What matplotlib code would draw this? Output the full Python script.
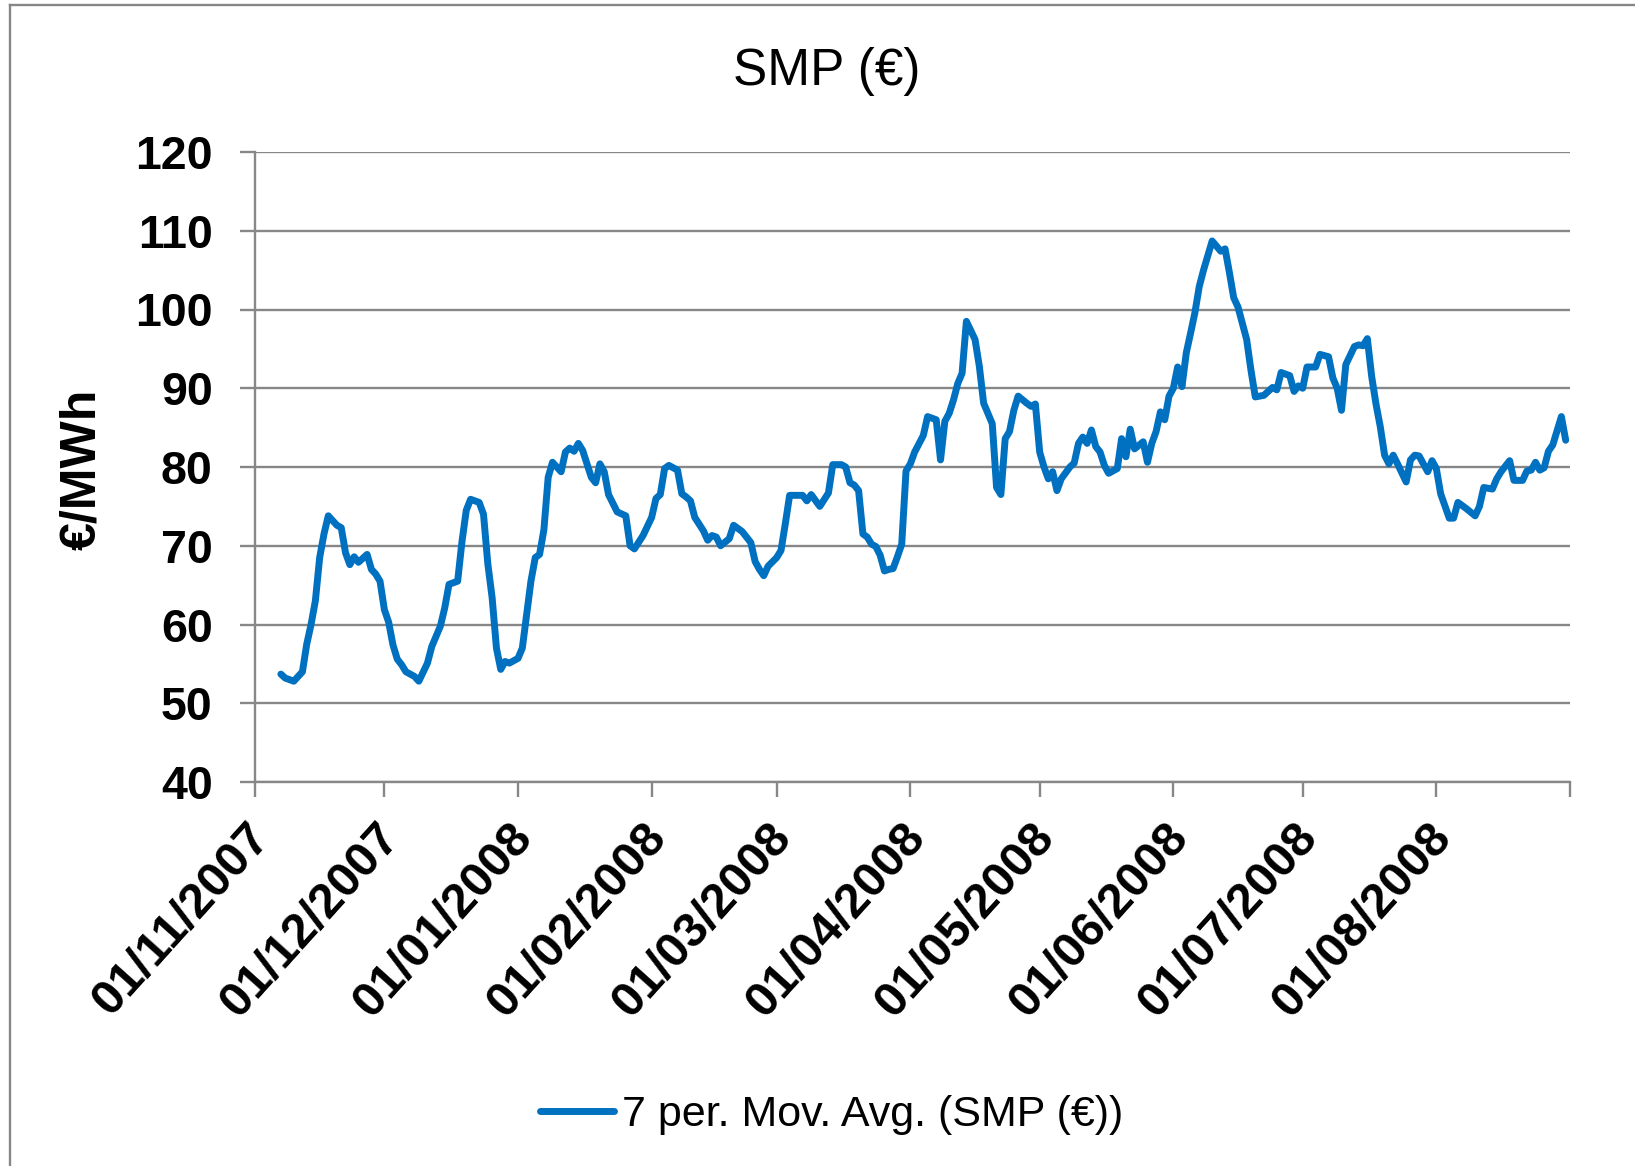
import numpy as np
import matplotlib
matplotlib.use("Agg")
import matplotlib.pyplot as plt
from matplotlib.lines import Line2D
from matplotlib import font_manager as fm
import matplotlib.transforms as mtransforms

# ---------------- data ----------------
start_date = np.datetime64("2007-11-01")
# days since 01/11/2007 and the 7-period moving average of SMP (EUR/MWh)
day_offset = [
    6, 7, 8, 9, 11, 12, 13, 14, 15, 16, 17, 18, 19, 20, 21, 22, 23, 24, 26, 27, 28, 29,
    30, 31, 32, 33, 34, 35, 37, 38, 40, 41, 43, 44, 45, 47, 48, 49, 50, 51, 52, 53, 54, 55, 56, 57, 58, 59,
    61, 62, 63, 64, 65, 66, 67, 68, 69, 71, 72, 73, 74, 75, 76, 78, 79, 80, 81, 82, 84, 86, 87, 88, 90,
    92, 93, 94, 95, 96, 98, 99, 100, 101, 102, 104, 105, 106, 107, 108, 110, 111, 113, 114, 115, 116, 117, 118, 119,
    121, 122, 123, 124, 126, 127, 128, 129, 131, 133, 134, 136, 137, 138, 139, 140, 141, 142, 143, 144, 145, 146, 147, 148, 149, 150, 151,
    152, 153, 155, 156, 158, 159, 160, 161, 162, 163, 164, 165, 167, 168, 169, 170, 171, 172, 173, 174, 175, 176, 177, 179, 180, 181,
    182, 183, 184, 185, 186, 187, 189, 190, 191, 192, 193, 194, 195, 196, 197, 198, 200, 201, 202, 203, 204, 206, 207, 208, 209, 210, 211, 212,
    213, 214, 215, 216, 217, 218, 219, 220, 222, 224, 225, 226, 227, 228, 230, 231, 232, 234, 236, 237, 238, 240, 241, 242,
    243, 244, 246, 247, 249, 250, 251, 252, 253, 255, 256, 257, 258, 259, 260, 261, 262, 263, 264, 265, 267, 268, 269, 270, 272, 273,
    274, 275, 277, 278, 279, 281, 283, 284, 285, 287, 288, 289, 291, 292, 294, 295, 296, 297, 298, 299, 300, 301, 303, 304,
]
smp_ma7 = [
    53.7, 53.2, 53.0, 52.8, 54.0, 57.5, 60.0, 63.0, 68.5, 71.5, 73.8, 73.2, 72.6, 72.3, 69.1, 67.6, 68.6, 67.9, 68.9, 67.0, 66.4, 65.5,
    61.9, 60.3, 57.4, 55.6, 54.9, 54.0, 53.4, 52.8, 55.1, 57.2, 59.8, 62.1, 65.1, 65.5, 70.5, 74.5, 75.9, 75.7, 75.5, 74.0, 67.7, 63.4, 57.0, 54.3, 55.3, 55.1,
    55.7, 57.0, 61.3, 65.5, 68.5, 68.9, 72.0, 78.7, 80.6, 79.4, 81.9, 82.4, 82.0, 83.0, 82.1, 78.7, 78.0, 80.4, 79.4, 76.5, 74.3, 73.8, 70.0, 69.6, 71.3,
    73.6, 76.0, 76.5, 79.8, 80.2, 79.6, 76.6, 76.2, 75.7, 73.6, 71.9, 70.7, 71.3, 71.1, 70.0, 70.9, 72.6, 71.8, 71.1, 70.4, 68.0, 67.0, 66.2, 67.4,
    68.5, 69.4, 72.8, 76.4, 76.4, 76.4, 75.7, 76.5, 75.0, 76.7, 80.3, 80.3, 80.0, 78.0, 77.7, 77.0, 71.5, 71.1, 70.2, 69.9, 68.8, 66.8, 67.0, 67.1, 68.6, 70.2, 79.5,
    80.4, 81.9, 84.0, 86.4, 86.0, 80.9, 85.8, 86.8, 88.5, 90.6, 91.9, 98.5, 96.2, 92.8, 88.1, 86.8, 85.5, 77.4, 76.5, 83.6, 84.5, 87.2, 89.0, 88.1, 87.7, 88.0,
    81.9, 80.0, 78.5, 79.4, 77.0, 78.5, 80.0, 80.5, 83.0, 83.8, 83.0, 84.7, 82.6, 81.9, 80.2, 79.2, 79.8, 83.6, 81.3, 84.8, 82.3, 83.2, 80.6, 83.0, 84.5, 87.0, 86.0, 89.0,
    90.0, 92.7, 90.2, 94.5, 97.0, 99.6, 102.9, 105.0, 108.7, 107.4, 107.7, 104.7, 101.5, 100.3, 96.2, 92.3, 88.9, 89.1, 90.1, 89.8, 92.0, 91.6, 89.6, 90.3,
    90.0, 92.7, 92.7, 94.3, 94.0, 91.3, 90.0, 87.2, 93.0, 95.3, 95.5, 95.4, 96.3, 91.5, 88.0, 85.1, 81.5, 80.4, 81.5, 80.4, 78.1, 80.9, 81.5, 81.4, 79.4, 80.8,
    79.8, 76.6, 73.5, 73.5, 75.5, 74.7, 73.8, 75.0, 77.4, 77.2, 78.5, 79.4, 80.8, 78.3, 78.3, 79.5, 79.6, 80.6, 79.6, 79.9, 82.0, 82.8, 86.4, 83.4,
]
tick_dates = ["2007-11-01", "2007-12-01", "2008-01-01", "2008-02-01", "2008-03-01", "2008-04-01",
              "2008-05-01", "2008-06-01", "2008-07-01", "2008-08-01", "2008-09-01"]
tick_labels = ["01/11/2007", "01/12/2007", "01/01/2008", "01/02/2008", "01/03/2008", "01/04/2008",
               "01/05/2008", "01/06/2008", "01/07/2008", "01/08/2008", ""]
y_ticks = [40, 50, 60, 70, 80, 90, 100, 110, 120]

title_text = "SMP (€)"
y_label = "€/MWh"
series_label = "7 per. Mov. Avg. (SMP (€))"

# ---------------- style ----------------
avail = {f.name for f in fm.fontManager.ttflist}
FONT = "Liberation Sans" if "Liberation Sans" in avail else "DejaVu Sans"
plt.rcParams["font.family"] = [FONT, "DejaVu Sans"]

LINE_BLUE = "#0070C0"
GRID_GRAY = "#878787"

W, H = 1635, 1166
fig = plt.figure(figsize=(W / 100, H / 100), dpi=100)
fig.patch.set_facecolor("white")

ax = fig.add_axes([255 / W, 1 - 782 / H, (1570 - 255) / W, (782 - 152) / H])

dates = start_date + np.array(day_offset).astype("timedelta64[D]")
line, = ax.plot(dates, smp_ma7, color=LINE_BLUE, lw=5.0, solid_joinstyle="round",
                solid_capstyle="round", label=series_label, zorder=3)

ax.set_xlim(np.datetime64(tick_dates[0]), np.datetime64(tick_dates[-1]))
ax.set_ylim(y_ticks[0], y_ticks[-1])
ax.set_yticks(y_ticks)
ax.set_yticklabels([str(v) for v in y_ticks])
ax.set_xticks([np.datetime64(d) for d in tick_dates])
ax.set_xticklabels(tick_labels)

ax.grid(axis="y", color=GRID_GRAY, lw=1.7, zorder=0)
ax.set_axisbelow(True)
for s in ["top", "right"]:
    ax.spines[s].set_visible(False)
for s in ["left", "bottom"]:
    ax.spines[s].set_color(GRID_GRAY)
    ax.spines[s].set_linewidth(1.7)

ax.tick_params(axis="y", direction="out", length=10.5, width=1.7, color=GRID_GRAY,
               pad=20, labelsize=33.5)
ax.tick_params(axis="x", direction="out", length=10.5, width=1.7, color=GRID_GRAY,
               pad=24, labelsize=35)
for lab in ax.get_yticklabels():
    lab.set_fontweight("bold")
offset = mtransforms.ScaledTranslation(5 / 72, 0, fig.dpi_scale_trans)
for lab in ax.get_xticklabels():
    lab.set_fontweight("bold")
    lab.set_rotation(48)
    lab.set_ha("right")
    lab.set_va("center")
    lab.set_rotation_mode("anchor")
    lab.set_transform(lab.get_transform() + offset)

fig.text(827 / W, 1 - 71 / H, title_text, ha="center", va="center", fontsize=37)
fig.text(82 / W, 1 - 469 / H, y_label, ha="center", va="center", rotation=90,
         fontsize=36, fontweight="bold")

fig.legend(handles=[line], labels=[series_label], loc="center",
           bbox_to_anchor=(832 / W, 1 - 1115 / H), frameon=False, fontsize=31,
           handlelength=1.7, handletextpad=0.2)

# chart-area border (top and left visible)
fig.add_artist(Line2D([10 / W, 1.0], [1 - 5 / H, 1 - 5 / H], transform=fig.transFigure,
                      color=GRID_GRAY, lw=1.7))
fig.add_artist(Line2D([10 / W, 10 / W], [0.0, 1 - 5 / H], transform=fig.transFigure,
                      color=GRID_GRAY, lw=1.7))

fig.savefig("out.png", dpi=100)
